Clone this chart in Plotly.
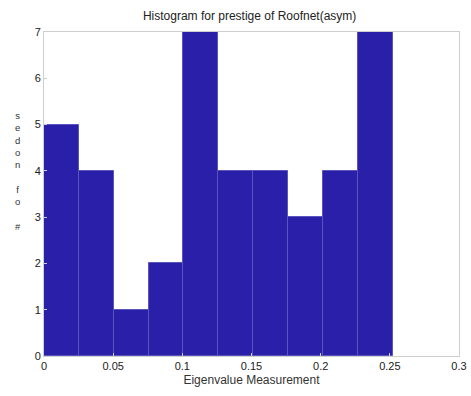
import plotly.graph_objects as go

# histogram of eigenvalue measurement
bin_edges = [0.0, 0.0252, 0.0504, 0.0756, 0.1008, 0.126, 0.1512, 0.1764, 0.2016, 0.2268, 0.252]
counts = [5, 4, 1, 2, 7, 4, 4, 3, 4, 7]
x_ticks = [0, 0.05, 0.1, 0.15, 0.2, 0.25, 0.3]
x_tick_text = ["0", "0.05", "0.1", "0.15", "0.2", "0.25", "0.3"]
y_ticks = [0, 1, 2, 3, 4, 5, 6, 7]

centers = [(a + b) / 2 for a, b in zip(bin_edges[:-1], bin_edges[1:])]
widths = [b - a for a, b in zip(bin_edges[:-1], bin_edges[1:])]

fig = go.Figure(go.Bar(
    x=centers, y=counts, width=widths,
    marker=dict(color="#2a1fa8", line=dict(color="#5a55bb", width=1)),
))

axis_style = dict(showline=True, linecolor="#cfcfcf", linewidth=1, mirror=True,
                  showgrid=False, zeroline=False, ticks="inside", ticklen=3,
                  tickcolor="#cfcfcf", automargin=False,
                  tickfont=dict(family="Liberation Sans", size=11, color="#222"))

fig.update_xaxes(range=[0, 0.3], tickvals=x_ticks, ticktext=x_tick_text,
                 title=dict(text="Eigenvalue Measurement", standoff=4,
                            font=dict(family="Liberation Sans", size=12, color="#333")),
                 **axis_style)
fig.update_yaxes(range=[0, 7], tickvals=y_ticks, **axis_style)

fig.add_annotation(text="s<br>e<br>d<br>o<br>n<br><br>f<br>o<br><br>#",
                   xref="paper", yref="paper", x=-0.075, y=0.57, showarrow=False,
                   font=dict(family="Liberation Sans", size=9.5, color="#333"))

fig.update_layout(
    width=471, height=396,
    margin=dict(l=44, r=12, t=32, b=40),
    title=dict(text="Histogram for prestige of Roofnet(asym)", x=0.53, y=0.97,
               xanchor="center", font=dict(family="Liberation Sans", size=12, color="#222")),
    plot_bgcolor="white", paper_bgcolor="white",
    bargap=0, showlegend=False,
)

fig.write_html("out.html", config={"displayModeBar": False},
               post_script="document.body.style.margin='0';")
